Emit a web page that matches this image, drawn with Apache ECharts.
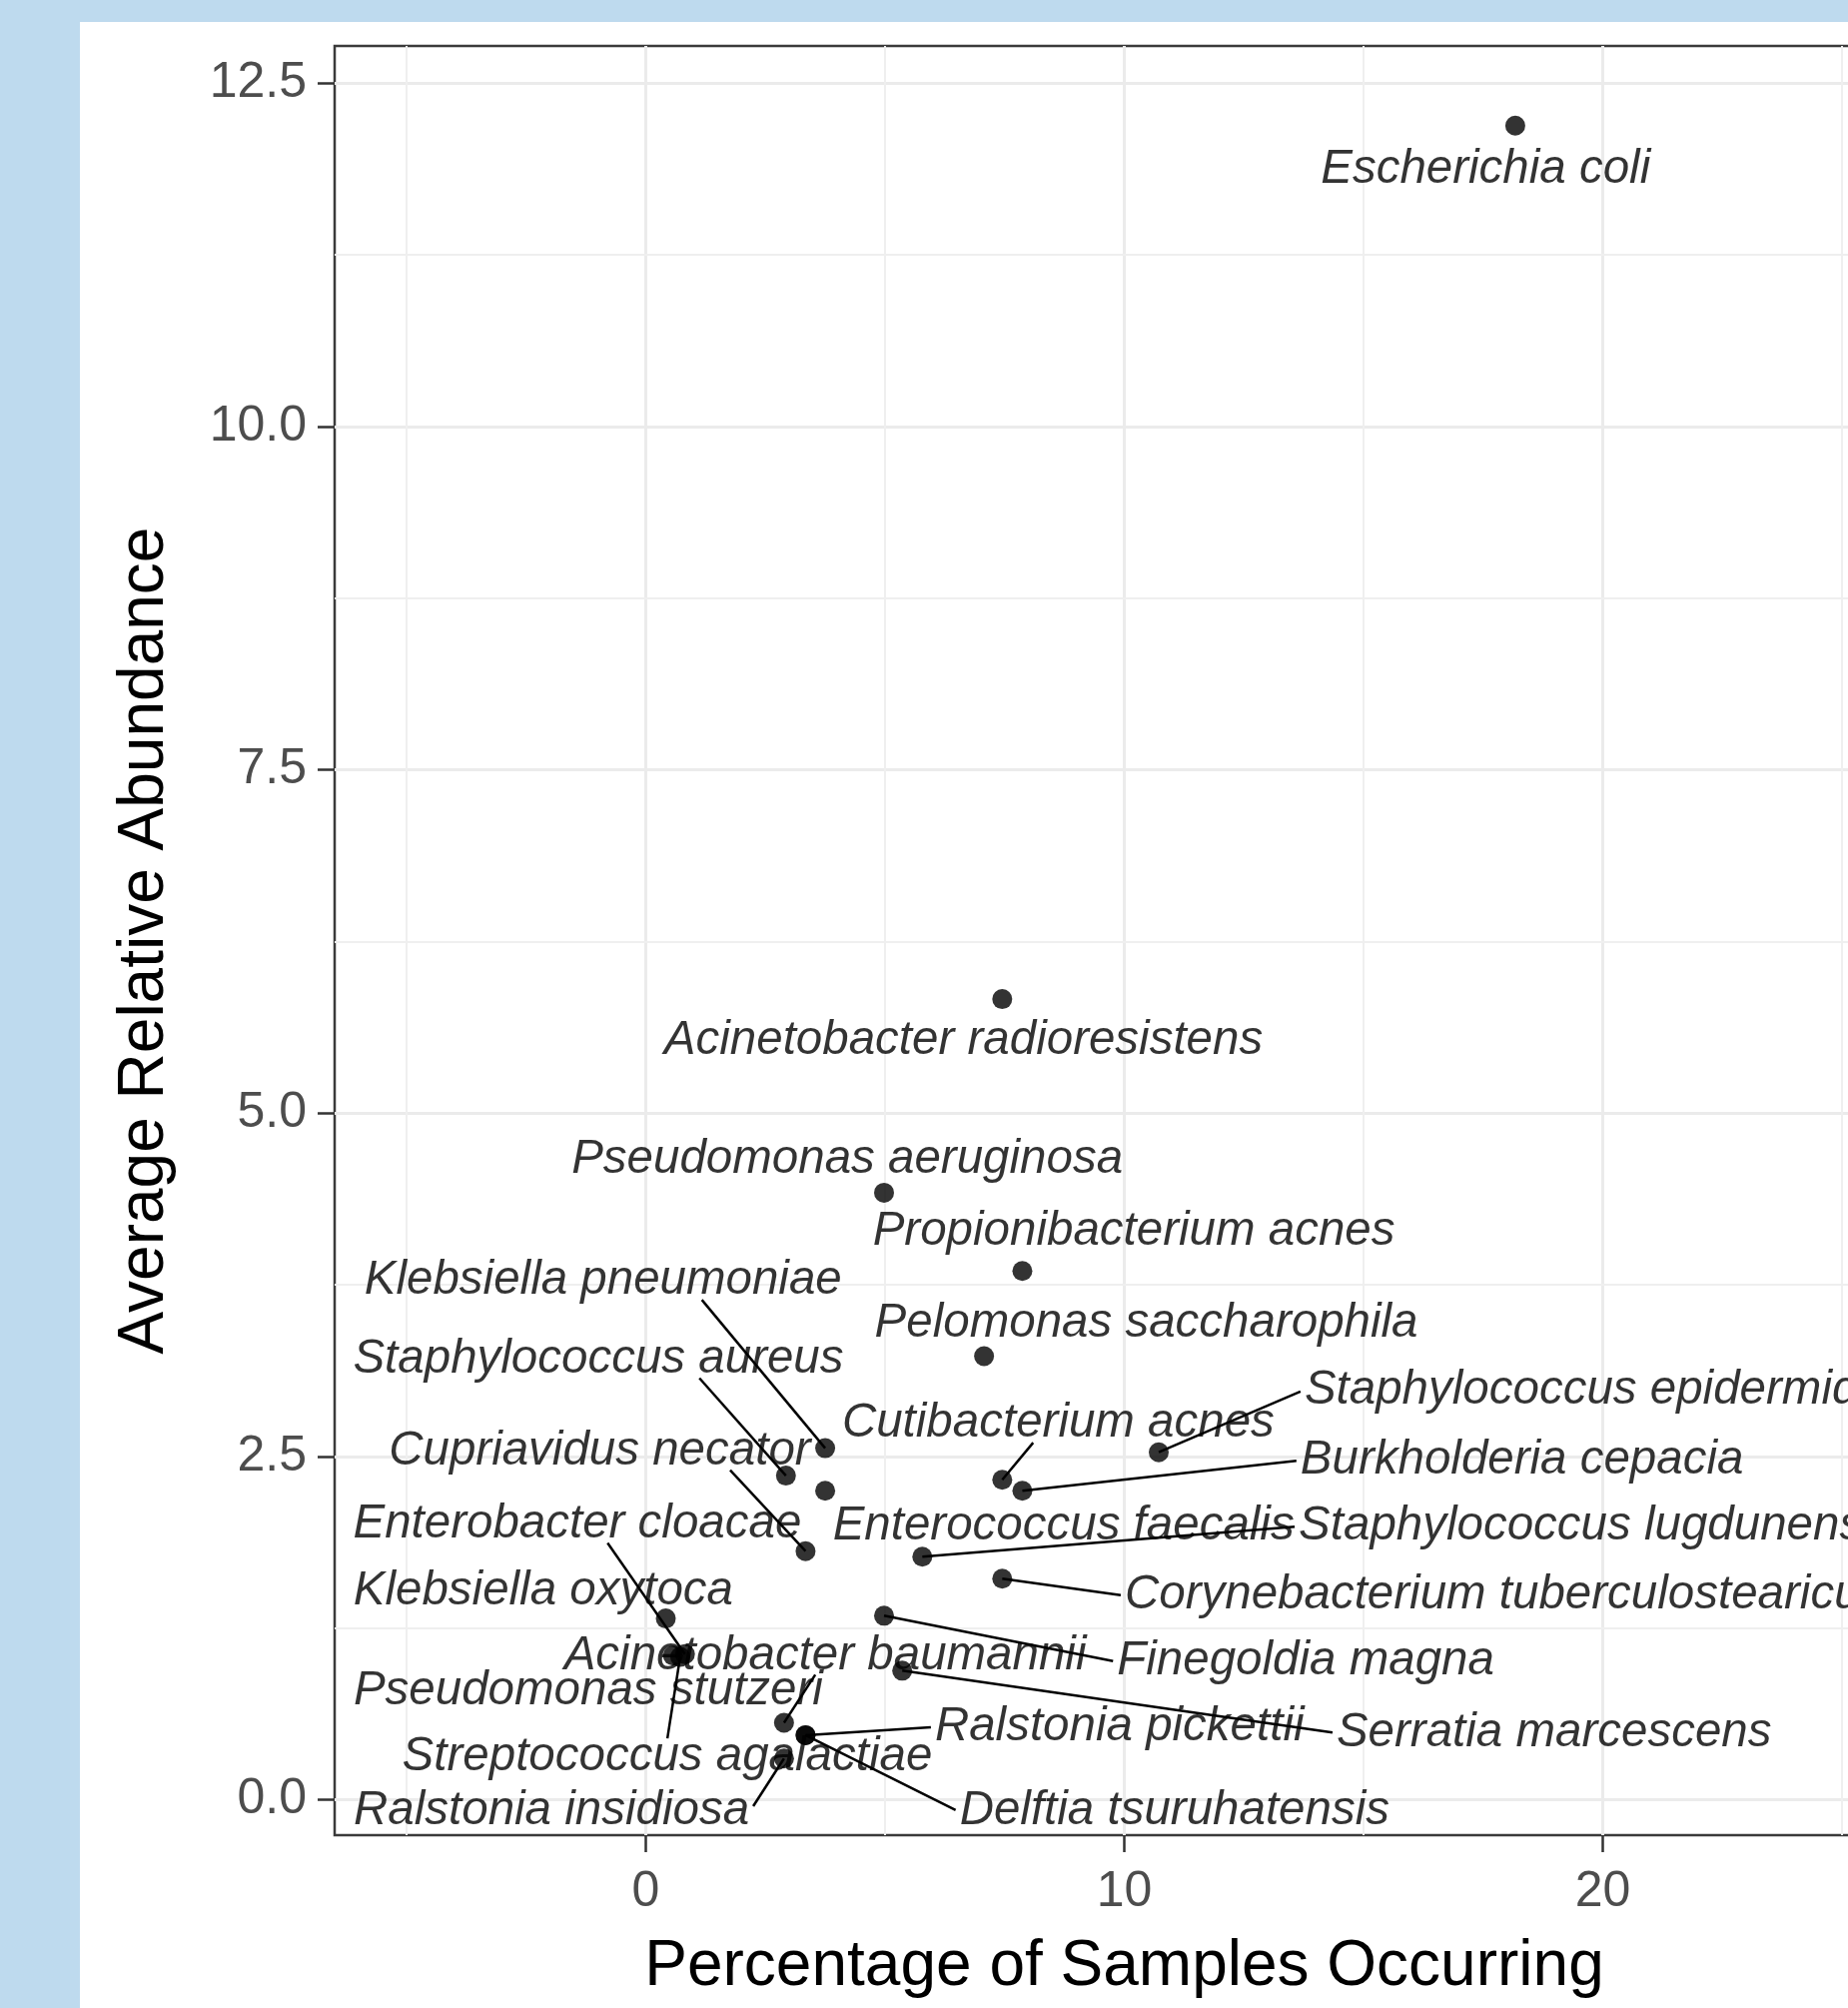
<!DOCTYPE html>
<html>
<head>
<meta charset="utf-8">
<title>Average Relative Abundance</title>
<script src="https://cdn.jsdelivr.net/npm/echarts@6/dist/echarts.min.js"></script>
<style>
  html, body { margin: 0; padding: 0; background: #bedaee; overflow: hidden; }
  #card { position: absolute; left: 80px; top: 22px; width: 1770px; height: 1988px; background: #fff; }
  #Graph1 { position: absolute; left: 0; top: 0; width: 1850px; height: 2010px; }
</style>
</head>
<body>
<div id="card"></div>
<div id="Graph1"></div>
<script>
// data
var species = [
  'Escherichia coli', 'Acinetobacter radioresistens', 'Pseudomonas aeruginosa',
  'Propionibacterium acnes', 'Pelomonas saccharophila', 'Klebsiella pneumoniae',
  'Staphylococcus aureus', 'Cupriavidus necator', 'Cutibacterium acnes',
  'Staphylococcus epidermidis', 'Burkholderia cepacia', 'Enterobacter cloacae',
  'Enterococcus faecalis', 'Staphylococcus lugdunensis', 'Klebsiella oxytoca',
  'Corynebacterium tuberculostearicum', 'Acinetobacter baumannii', 'Finegoldia magna',
  'Pseudomonas stutzeri', 'Serratia marcescens', 'Ralstonia pickettii',
  'Streptococcus agalactiae', 'Ralstonia insidiosa', 'Delftia tsuruhatensis'
];
var pctSamples = [18.17, 7.45, 4.98, 7.87, 7.07, 3.75, 2.93, 3.34, 7.45, 10.72, 7.87, 0.82,
                  3.75, 5.78, 0.42, 7.45, 2.89, 4.98, 0.57, 5.36, 3.34, 0.72, 2.89, 3.34];
var avgAbundance = [12.19, 5.83, 4.42, 3.85, 3.23, 2.56, 2.36, 1.81, 2.33, 2.53, 2.25, 1.06,
                    2.25, 1.77, 1.32, 1.61, 0.56, 1.34, 1.05, 0.94, 0.47, 1.04, 0.30, 0.47];

// where the repelled labels sit (centre, data units) and which ones get a segment
var labelX = [17.55, 6.64, 4.21, 10.20, 10.46, -0.89, -0.99, -0.96, 8.62, 19.91, 18.31, -1.43,
              8.73, 19.90, -2.14, 18.11, 3.75, 13.79, -1.20, 18.98, 9.90, 0.45, -1.97, 11.05];
var labelY = [11.89, 5.55, 4.68, 4.16, 3.49, 3.80, 3.23, 2.56, 2.76, 3.00, 2.49, 2.03,
              2.01, 2.01, 1.54, 1.51, 1.07, 1.03, 0.81, 0.51, 0.55, 0.33, -0.06, -0.06];
var hasSegment = [0, 0, 0, 0, 0, 1, 1, 1, 1, 1, 1, 1, 0, 1, 0, 1, 1, 1, 0, 1, 1, 1, 1, 1];

// axes
var xTicks = [0, 10, 20];
var yTicks = [0, 2.5, 5, 7.5, 10, 12.5];
var xMinor = [-5, 5, 15, 25];
var yMinor = [1.25, 3.75, 6.25, 8.75, 11.25];

var FONT = "'Liberation Sans', Arial, Helvetica, sans-serif";
var LABEL_SIZE = 47.5;
var LABEL_DY = 3;

var myChart = echarts.init(document.querySelector('#Graph1'), null, { renderer: 'canvas' });

// text widths, for the label boxes the segments attach to
var measure = document.createElement('canvas').getContext('2d');
measure.font = 'italic ' + LABEL_SIZE + 'px ' + FONT;
var labelW = species.map(function (s) { return measure.measureText(s).width; });

// ggrepel style connection: nearest box point, nudged toward the box centre
function connect(p, b) {
  var ox, oy, left = false, right = false, top = false, bottom = false;
  if (p[0] >= b[0] && p[0] <= b[2]) ox = p[0];
  else if (p[0] > b[2]) { ox = b[2]; right = true; }
  else { ox = b[0]; left = true; }
  if (p[1] >= b[1] && p[1] <= b[3]) oy = p[1];
  else if (p[1] > b[3]) { oy = b[3]; bottom = true; }
  else { oy = b[1]; top = true; }
  var mx = (b[0] + b[2]) / 2, my = (b[1] + b[3]) / 2;
  var d = Math.hypot(p[0] - ox, p[1] - oy);
  var a1 = Math.hypot(p[0] - mx, p[1] - oy);
  var a2 = Math.hypot(p[0] - ox, p[1] - my);
  if ((top || bottom) && !(left || right)) {
    ox += (mx - ox) * d / a1;
  } else if ((left || right) && !(top || bottom)) {
    oy += (my - oy) * d / a2;
  } else if ((left || right) && (top || bottom)) {
    if (a1 < a2) ox += (mx - ox) * d / a1;
    else oy += (my - oy) * d / a2;
  }
  return [ox, oy];
}

var points = species.map(function (s, i) {
  return { name: s, value: [pctSamples[i], avgAbundance[i]] };
});
var segData = species.map(function (s, i) {
  return [pctSamples[i], avgAbundance[i], labelX[i], labelY[i], i];
});

var minorLines = xMinor.map(function (v) { return { xAxis: v }; })
  .concat(yMinor.map(function (v) { return { yAxis: v }; }));

var option = {
  animation: false,
  backgroundColor: 'transparent',
  grid: {
    left: 335, top: 46, width: 1581, height: 1791,
    outerBoundsMode: 'none', containLabel: false,
    show: true, borderColor: '#3a3a3a', borderWidth: 2.5, backgroundColor: 'transparent'
  },
  xAxis: {
    type: 'value', min: -6.5, max: 26.5,
    name: 'Percentage of Samples Occurring',
    nameLocation: 'middle', nameGap: 100,
    nameTextStyle: { fontFamily: FONT, fontSize: 64, color: '#000' },
    axisLine: { show: false, onZero: false },
    axisTick: { show: true, length: 17, customValues: xTicks, lineStyle: { color: '#333', width: 2.5 } },
    axisLabel: {
      customValues: xTicks, margin: 32, fontFamily: FONT, fontSize: 50, color: '#4d4d4d',
      formatter: function (v) { return String(v); }
    },
    splitLine: { show: true, lineStyle: { color: '#ebebeb', width: 3 } }
  },
  yAxis: {
    type: 'value', min: -0.258, max: 12.77,
    name: 'Average Relative Abundance',
    nameLocation: 'middle', nameGap: 158,
    nameTextStyle: { fontFamily: FONT, fontSize: 64, color: '#000' },
    axisLine: { show: false, onZero: false },
    axisTick: { show: true, length: 17, customValues: yTicks, lineStyle: { color: '#333', width: 2.5 } },
    axisLabel: {
      customValues: yTicks, margin: 28, fontFamily: FONT, fontSize: 50, color: '#4d4d4d',
      formatter: function (v) { return v.toFixed(1); }
    },
    splitLine: { show: true, lineStyle: { color: '#ebebeb', width: 3 } }
  },
  series: [
    {
      // minor grid
      type: 'scatter', data: [], silent: true,
      markLine: {
        silent: true, symbol: 'none', z: 1, animation: false,
        label: { show: false },
        lineStyle: { color: '#efefef', width: 2, type: 'solid' },
        emphasis: { disabled: true },
        data: minorLines
      }
    },
    {
      // label segments
      type: 'custom', z: 2, silent: true,
      data: segData,
      encode: { x: [0, 2], y: [1, 3] },
      renderItem: function (params, api) {
        var i = api.value(4);
        if (!hasSegment[i]) return null;
        var p = api.coord([api.value(0), api.value(1)]);
        var c = api.coord([api.value(2), api.value(3)]);
        c[1] += LABEL_DY;
        var hw = labelW[i] / 2 + 4, hh = LABEL_SIZE * 0.4;
        var e = connect(p, [c[0] - hw, c[1] - hh, c[0] + hw, c[1] + hh]);
        return {
          type: 'line',
          shape: { x1: p[0], y1: p[1], x2: e[0], y2: e[1] },
          style: { stroke: '#000', lineWidth: 2.5 }
        };
      }
    },
    {
      id: 'pts', type: 'scatter', z: 3,
      symbolSize: 20,
      itemStyle: { color: '#000' },
      data: points,
      label: {
        show: true, formatter: '{b}',
        fontFamily: FONT, fontStyle: 'italic', fontSize: LABEL_SIZE, color: '#000'
      },
      emphasis: { disabled: true }
    }
  ]
};

myChart.setOption(option);

// second pass: place labels where they sit in the picture, via the axes
var labelPx = labelX.map(function (lx, i) {
  return myChart.convertToPixel({ gridIndex: 0 }, [lx, labelY[i]]);
});
myChart.setOption({
  series: [{
    id: 'pts',
    labelLayout: function (params) {
      var p = labelPx[params.dataIndex];
      return { x: p[0], y: p[1] + LABEL_DY, align: 'center', verticalAlign: 'middle' };
    }
  }]
});
</script>
</body>
</html>
